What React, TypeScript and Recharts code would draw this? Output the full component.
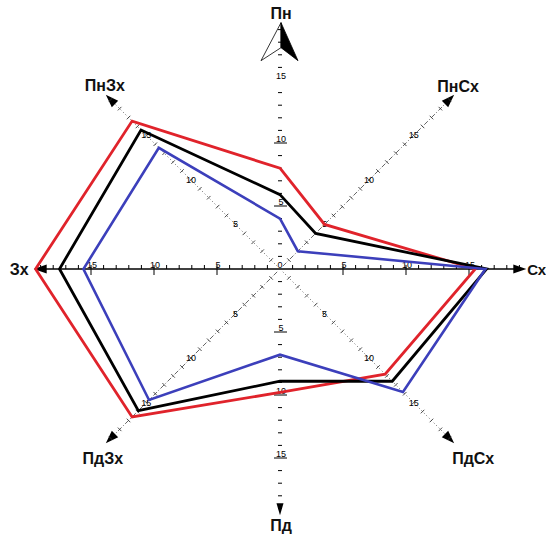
import React from "react";
import { RadarChart, Radar, PolarAngleAxis, PolarRadiusAxis } from "recharts";

const directions = ["Пн", "ПнСх", "Сх", "ПдСх", "Пд", "ПдЗх", "Зх", "ПнЗх"];
const redValues = [8.0, 5.0, 15.5, 11.8, 9.8, 16.6, 19.4, 16.6];
const blackValues = [5.9, 4.0, 16.4, 12.6, 8.9, 15.9, 17.5, 15.6];
const blueValues = [4.0, 2.0, 16.3, 13.8, 6.8, 14.7, 15.6, 13.6];
const labeledTicks = [5, 10, 15];
const radiusMax = 20;

const data = directions.map((dir, i) => ({
  dir,
  red: redValues[i],
  black: blackValues[i],
  blue: blueValues[i],
}));

// layout
const CX = 280;
const CY = 269;
const OUTER = 252;
const TIP = (OUTER * 19.55) / radiusMax;
const lineKinds = ["none", "dashdot", "solid", "dotted", "none", "dashdot", "solid", "dotted"];
const labelOffsets = [
  [1, -9],
  [4, -8],
  [1, 0],
  [19, 15],
  [1, 10],
  [-3, 15],
  [-5, 0],
  [-1, -9],
];
const font = "'Liberation Sans', Arial, sans-serif";

function DirectionTick(props: any) {
  const { payload, index } = props;
  const cx = props.cx ?? CX;
  const cy = props.cy ?? CY;
  const a = (payload.coordinate * Math.PI) / 180;
  const ux = Math.cos(a);
  const uy = -Math.sin(a);
  const px = -uy;
  const py = ux;
  const at = (r: number, s = 0) => [cx + ux * r + px * s, cy + uy * r + py * s];
  const kind = lineKinds[index];
  const [tx, ty] = at(TIP);
  const parts: React.ReactNode[] = [];

  if (kind !== "none") {
    const [sx, sy] = at(kind === "solid" ? 0 : 4);
    const [ex, ey] = at(TIP - 8);
    parts.push(
      <line
        key="l"
        x1={sx}
        y1={sy}
        x2={ex}
        y2={ey}
        stroke={kind === "solid" ? "#000" : "#555"}
        strokeWidth={kind === "solid" ? 1.4 : 0.9}
        strokeDasharray={kind === "dashdot" ? "5 2 1 2" : kind === "dotted" ? "1 2.5" : undefined}
      />
    );
  }

  if (index === 0) {
    const t = [tx + 1, ty];
    const left = [t[0] - 20, t[1] + 38];
    const right = [t[0] + 17, t[1] + 38];
    const inner = [t[0], t[1] + 25];
    parts.push(
      <polygon key="c1" points={`${t} ${left} ${inner}`} fill="#fff" stroke="#000" strokeWidth={0.8} />,
      <polygon key="c2" points={`${t} ${inner} ${right}`} fill="#000" stroke="#000" strokeWidth={0.8} />
    );
  } else if (index === 4) {
    const [bx1, by1] = at(TIP - 12, 3.5);
    const [bx2, by2] = at(TIP - 12, -3.5);
    parts.push(<polygon key="a" points={`${tx},${ty} ${bx1},${by1} ${bx2},${by2}`} fill="#000" />);
  } else {
    const [bx1, by1] = at(TIP - 13, 4.5);
    const [bx2, by2] = at(TIP - 13, -4.5);
    parts.push(<polygon key="a" points={`${tx},${ty} ${bx1},${by1} ${bx2},${by2}`} fill="#000" />);
  }

  const [ox, oy] = labelOffsets[index];
  const anchor = index === 2 ? "start" : index === 6 ? "end" : "middle";
  parts.push(
    <text
      key="t"
      x={tx + ox}
      y={ty + oy}
      textAnchor={anchor}
      dominantBaseline="central"
      fontFamily={font}
      fontWeight="bold"
      fontSize={index === 2 ? 15 : 16}
      letterSpacing={index === 2 ? -0.5 : 0}
      fill="#111"
    >
      {payload.value}
    </text>
  );
  return <g>{parts}</g>;
}

function RadiusTick(props: any) {
  const { x, y, payload } = props;
  const v = payload.value;
  const r = payload.coordinate;
  const cx = x - r;
  const cy = y;
  const small = { fontFamily: font, fontSize: 9, fill: "#000" };
  if (v === 0) {
    return (
      <text x={cx} y={cy - 1} textAnchor="middle" {...small}>
        0
      </text>
    );
  }
  if (v >= radiusMax) return <g />;
  const major = labeledTicks.includes(v);
  const parts: React.ReactNode[] = [];

  // east-west
  [1, -1].forEach((side) => {
    const tx = cx + side * r;
    parts.push(
      <line
        key={`ew${side}`}
        x1={tx}
        x2={tx}
        y1={cy - 4}
        y2={cy + (major ? 6 : 0)}
        stroke="#000"
        strokeWidth={1}
      />
    );
    if (major) {
      parts.push(
        <text key={`ewt${side}`} x={tx + 1} y={cy - 1.5} textAnchor="middle" {...small}>
          {v}
        </text>
      );
    }
  });

  // north-south
  [-1, 1].forEach((side) => {
    const ty = cy + side * r;
    if (major) {
      if (!(side === -1 && v === 15)) {
        parts.push(
          <line key={`nsu${side}`} x1={cx - 6} x2={cx + 7} y1={ty} y2={ty} stroke="#000" strokeWidth={1} />
        );
      }
      parts.push(
        <text key={`nst${side}`} x={cx + 1} y={ty - 1.5} textAnchor="middle" {...small}>
          {v}
        </text>
      );
    } else {
      parts.push(
        <line key={`ns${side}`} x1={cx - 2} x2={cx + 2} y1={ty} y2={ty} stroke="#000" strokeWidth={1} />
      );
    }
  });

  // diagonals
  [
    [1, -1],
    [1, 1],
    [-1, 1],
    [-1, -1],
  ].forEach(([dx, dy], i) => {
    const k = r / Math.SQRT2;
    const px = cx + dx * k;
    const py = cy + dy * k;
    const ox = (-dy / Math.SQRT2) * 2.5;
    const oy = (dx / Math.SQRT2) * 2.5;
    parts.push(
      <line key={`d${i}`} x1={px - ox} y1={py - oy} x2={px + ox} y2={py + oy} stroke="#333" strokeWidth={0.9} />
    );
    if (major) {
      parts.push(
        <text key={`dt${i}`} x={px} y={py} textAnchor="middle" dominantBaseline="central" {...small}>
          {v}
        </text>
      );
    }
  });

  return <g>{parts}</g>;
}

export default function App() {
  return (
    <div style={{ position: "absolute", left: 0, top: 0, width: 546, height: 541, background: "#fff" }}>
      <RadarChart
        width={546}
        height={541}
        data={data}
        cx={CX}
        cy={CY}
        outerRadius={OUTER}
        startAngle={90}
        endAngle={-270}
        margin={{ top: 0, right: 0, bottom: 0, left: 0 }}
      >
        <PolarAngleAxis dataKey="dir" axisLine={false} tickLine={false} tick={DirectionTick} />
        <PolarRadiusAxis
          angle={0}
          domain={[0, radiusMax]}
          tickCount={21}
          axisLine={false}
          tick={RadiusTick}
        />
        <Radar
          dataKey="red"
          stroke="#e0232b"
          strokeWidth={2.8}
          fill="none"
          fillOpacity={0}
          dot={false}
          isAnimationActive={false}
          zIndex={600}
        />
        <Radar
          dataKey="black"
          stroke="#000000"
          strokeWidth={2.8}
          fill="none"
          fillOpacity={0}
          dot={false}
          isAnimationActive={false}
          zIndex={600}
        />
        <Radar
          dataKey="blue"
          stroke="#3c3fbb"
          strokeWidth={2.6}
          fill="none"
          fillOpacity={0}
          dot={false}
          isAnimationActive={false}
          zIndex={600}
        />
      </RadarChart>
    </div>
  );
}
